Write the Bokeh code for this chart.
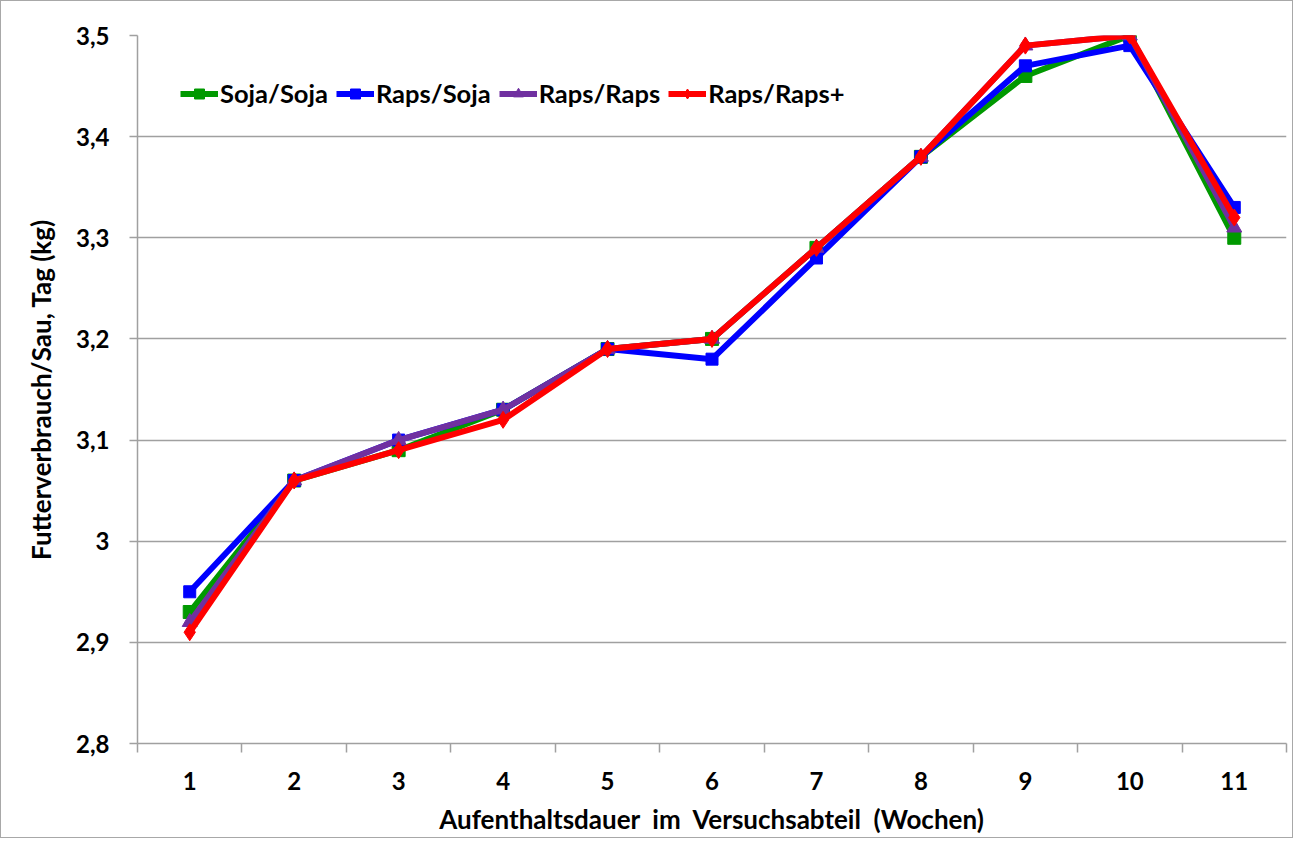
from bokeh.plotting import figure
from bokeh.models import Range1d, FixedTicker, Legend, LegendItem
from bokeh.embed import file_html
from bokeh.resources import INLINE

weeks = [1, 2, 3, 4, 5, 6, 7, 8, 9, 10, 11]
soja_soja = [2.93, 3.06, 3.09, 3.13, 3.19, 3.20, 3.29, 3.38, 3.46, 3.50, 3.30]
raps_soja = [2.95, 3.06, 3.10, 3.13, 3.19, 3.18, 3.28, 3.38, 3.47, 3.49, 3.33]
raps_raps = [2.92, 3.06, 3.10, 3.13, 3.19, 3.20, 3.29, 3.38, 3.49, 3.50, 3.31]
raps_raps_plus = [2.91, 3.06, 3.09, 3.12, 3.19, 3.20, 3.29, 3.38, 3.49, 3.50, 3.32]
y_ticks = [2.8, 2.9, 3.0, 3.1, 3.2, 3.3, 3.4, 3.5]
y_tick_labels = ["2,8", "2,9", "3", "3,1", "3,2", "3,3", "3,4", "3,5"]
x_label = "Aufenthaltsdauer\u00a0 im\u00a0 Versuchsabteil\u00a0 (Wochen)"
y_label = "Futterverbrauch/Sau, Tag (kg)"

FONT = "Lato"
GREY = "#a0a0a0"

p = figure(frame_width=1149, frame_height=708, output_backend="svg", toolbar_location=None,
           x_range=Range1d(weeks[0] - 0.5, weeks[-1] + 0.5),
           y_range=Range1d(y_ticks[0], y_ticks[-1]),
           min_border_left=136, min_border_right=6, min_border_top=34, min_border_bottom=60)
p.outline_line_color = None
p.styles = {"border": "1px solid #a8a8a8", "box-sizing": "border-box"}

# axes
p.xaxis.ticker = FixedTicker(ticks=weeks, minor_ticks=[w - 0.5 for w in weeks] + [weeks[-1] + 0.5])
p.xaxis.major_tick_out = 0
p.xaxis.major_tick_in = 0
p.xaxis.minor_tick_out = 9
p.xaxis.minor_tick_in = 0
p.yaxis.ticker = FixedTicker(ticks=y_ticks, minor_ticks=[])
p.yaxis.major_label_overrides = {t: l for t, l in zip(y_ticks, y_tick_labels)}
p.yaxis.major_tick_out = 8
p.yaxis.major_tick_in = 0
for ax in (p.xaxis, p.yaxis):
    ax.axis_line_color = GREY
    ax.axis_line_width = 1.5
    ax.major_tick_line_color = GREY
    ax.minor_tick_line_color = GREY
    ax.major_tick_line_width = 1.5
    ax.minor_tick_line_width = 1.5
    ax.major_label_text_font = FONT
    ax.major_label_text_font_style = "bold"
    ax.major_label_text_font_size = "24px"
    ax.major_label_text_color = "black"
    ax.axis_label_text_font = FONT
    ax.axis_label_text_font_style = "bold"
    ax.axis_label_text_font_size = "26px"
    ax.axis_label_text_color = "black"
p.xaxis.major_label_standoff = 19
p.yaxis.major_label_standoff = 20
p.xaxis.axis_label = x_label
p.yaxis.axis_label = y_label
p.xaxis.axis_label_standoff = 10
p.yaxis.axis_label_standoff = 16

p.xgrid.grid_line_color = None
p.ygrid.ticker = FixedTicker(ticks=y_ticks)
p.ygrid.grid_line_color = GREY
p.ygrid.grid_line_width = 1.5

series = [
    ("Soja/Soja", soja_soja, "#009900", "square", 13),
    ("Raps/Soja", raps_soja, "#0000ff", "square", 12),
    ("Raps/Raps", raps_raps, "#7030a0", "triangle", 15),
    ("Raps/Raps+", raps_raps_plus, "#ff0000", "diamond", 17),
]
items = []
for name, vals, col, mk, sz in series:
    r1 = p.line(weeks, vals, line_color=col, line_width=6)
    r2 = p.scatter(weeks, vals, marker=mk, size=sz, fill_color=col, line_color=col)
    items.append(LegendItem(label=name, renderers=[r1, r2]))

legend = Legend(items=items, orientation="horizontal", location=(43, 635),
                background_fill_alpha=0, border_line_color=None,
                label_text_font=FONT, label_text_font_style="bold",
                label_text_font_size="25.5px", label_text_color="black",
                glyph_width=38, glyph_height=25, label_height=25,
                label_standoff=2, spacing=8, padding=0, margin=0)
p.add_layout(legend, "center")

open("out.html", "w").write(file_html(p, INLINE))
